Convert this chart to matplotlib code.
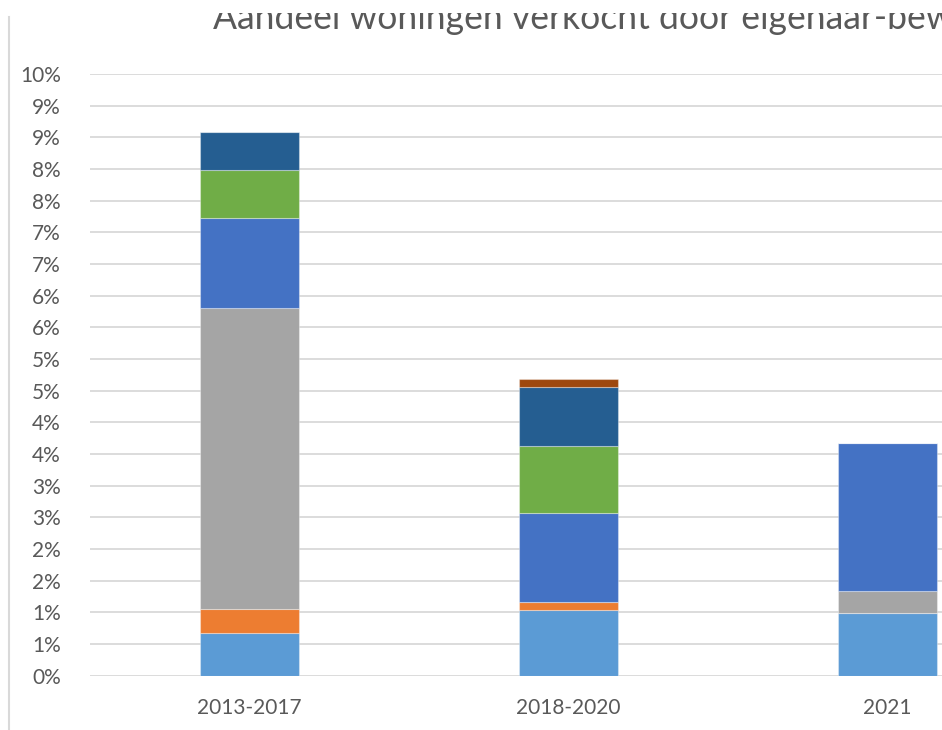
import numpy as np
import matplotlib
matplotlib.use("Agg")
import matplotlib.pyplot as plt
from matplotlib.patches import Rectangle
from matplotlib.lines import Line2D

# ---- data ----
categories = ["2013-2017", "2018-2020", "2021"]
series_1 = [0.670, 1.042, 0.995]   # light blue
series_2 = [0.379, 0.126, 0.0]     # orange
series_3 = [4.753, 0.0, 0.338]     # gray
series_4 = [1.431, 1.401, 2.346]   # blue
series_5 = [0.753, 1.058, 0.0]     # green
series_6 = [0.605, 0.936, 0.0]     # dark blue
series_7 = [0.0, 0.122, 0.0]       # brown
ytick_values = [0, 0.5, 1, 1.5, 2, 2.5, 3, 3.5, 4, 4.5, 5, 5.5, 6, 6.5, 7, 7.5, 8, 8.5, 9, 9.5]
ytick_labels = ["0%", "1%", "1%", "2%", "2%", "3%", "3%", "4%", "4%", "5%",
                "5%", "6%", "6%", "7%", "7%", "8%", "8%", "9%", "9%", "10%"]
title = "Aandeel woningen verkocht door eigenaar-bewoners"

series = [series_1, series_2, series_3, series_4, series_5, series_6, series_7]
colors = ["#5B9BD5", "#ED7D31", "#A5A5A5", "#4472C4", "#70AD47", "#255E91", "#9E480E"]

plt.rcParams["font.family"] = ["Lato", "DejaVu Sans"]

W, H = 942, 730
fig = plt.figure(figsize=(W / 100, H / 100), dpi=100)
fig.patch.set_facecolor("white")

ax_left = 90 / W
ax_bottom = (H - 675.7) / H
ax_top = (H - 74) / H
ax_width = 957 / W
ax = fig.add_axes([ax_left, ax_bottom, ax_width, ax_top - ax_bottom])

x = np.arange(len(categories))
bottom = np.zeros(len(categories))
for vals, c in zip(series, colors):
    v = np.array(vals)
    ax.bar(x, v, width=0.313, bottom=bottom, color=c, zorder=3,
           edgecolor=(1, 1, 1, 0.35), linewidth=0.8)
    bottom += v

ax.set_xlim(-0.5, 2.5)
ax.set_ylim(0, 9.5)
ax.set_yticks(ytick_values)
ax.set_yticklabels(ytick_labels)
ax.set_xticks(x)
ax.set_xticklabels(categories)
ax.tick_params(axis="both", length=0, colors="#595959", labelsize=15)
ax.tick_params(axis="y", pad=21)
ax.tick_params(axis="x", pad=16)
ax.grid(axis="y", color="#D9D9D9", linewidth=1.3, zorder=0)
ax.set_axisbelow(True)
for s in ax.spines.values():
    s.set_visible(False)

# chart border (left edge of chart area)
fig.add_artist(Line2D([9 / W, 9 / W], [0, (H - 17) / H], color="#D9D9D9",
                      linewidth=1.5, transform=fig.transFigure))

# title, clipped at top as in the reference
fig.text(213 / W, (H - 29) / H, title, ha="left", va="baseline",
         fontsize=25.6, color="#595959", fontweight="normal")
fig.add_artist(Rectangle((0, (H - 13) / H), 1, 13 / H, transform=fig.transFigure,
                         facecolor="white", edgecolor="none", zorder=10))

fig.savefig("out.png", dpi=100)
